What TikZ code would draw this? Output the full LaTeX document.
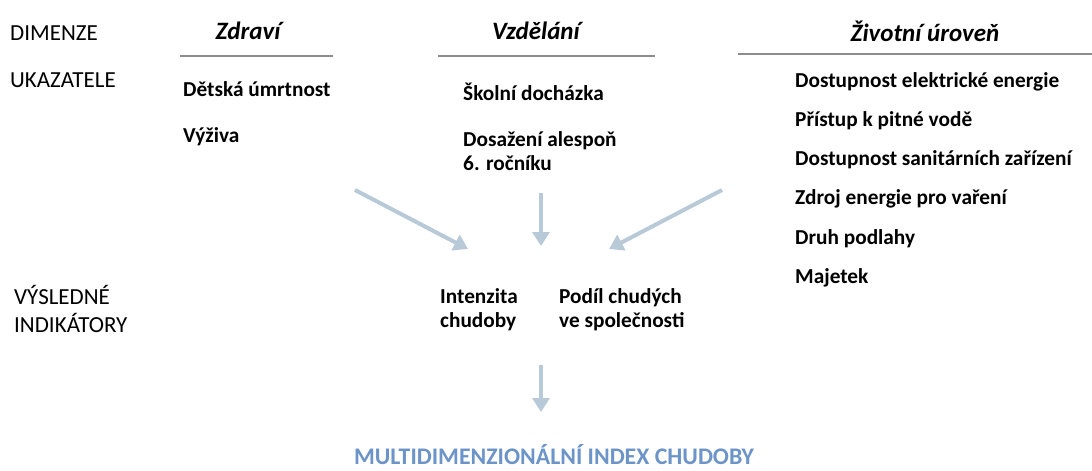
\documentclass[tikz,border=0pt]{standalone}
\usepackage{fontspec}
\setmainfont{Carlito}
\usepackage{tikz}
\usetikzlibrary{arrows.meta}
\definecolor{flowblue}{RGB}{184,201,216}
\definecolor{titleblue}{RGB}{108,148,200}
\definecolor{rulegray}{RGB}{140,140,140}
\tikzset{
ROWLABEL/.style={anchor=west,inner sep=0pt,font=\fontsize{23}{28}\selectfont,align=left},
DIMHEAD/.style={inner sep=0pt,font=\fontsize{25}{28}\selectfont\bfseries\itshape},
ITEM/.style={anchor=west,inner sep=0pt,font=\fontsize{21.3}{24}\selectfont\bfseries,align=left},
RULE/.style={draw=rulegray,line width=1.6pt},
FLOW/.style={draw=flowblue,line width=4pt,-{Triangle[length=14pt,width=17pt]}},
}

\begin{document}
\begin{tikzpicture}[x=1pt,y=-1pt] %MPI
	\useasboundingbox (0,0) rectangle (1092,471);
	% rows
	\node[ROWLABEL] (dim) at (10,33) {DIMENZE};
	\node[ROWLABEL] (uka) at (10,80) {UKAZATELE};
	\node[ROWLABEL] (vysl) at (14,309) {VÝSLEDNÉ\\INDIKÁTORY};
	% dimensions
	\node[DIMHEAD] (zdr) at (248,31) {Zdraví};
	\node[DIMHEAD] (vzd) at (536,31) {Vzdělání};
	\node[DIMHEAD] (ziv) at (925,31) {Životní úroveň};
	\path[RULE] (180,56) -- (333,56);
	\path[RULE] (438,56) -- (655,56);
	\path[RULE] (738,54) -- (1092,54);
	% indicators
	\node[ITEM] (detska) at (183,89) {Dětská úmrtnost};
	\node[ITEM] (vyziva) at (183,137) {Výživa};
	\node[ITEM] (skolni) at (463,92) {Školní docházka};
	\node[ITEM] (dosaz) at (463,151) {Dosažení alespoň\\6. ročníku};
	\node[ITEM] (elek) at (795,82) {Dostupnost elektrické energie};
	\node[ITEM] (voda) at (795,121) {Přístup k pitné vodě};
	\node[ITEM] (sanit) at (795,160) {Dostupnost sanitárních zařízení};
	\node[ITEM] (var) at (795,199) {Zdroj energie pro vaření};
	\node[ITEM] (podl) at (795,239) {Druh podlahy};
	\node[ITEM] (maj) at (795,278) {Majetek};
	% results
	\node[ITEM] (inten) at (440,310) {Intenzita\\chudoby};
	\node[ITEM] (podil) at (559,310) {Podíl chudých\\ve společnosti};
	\node[anchor=base,inner sep=0pt,text depth=0pt,font=\fontsize{23.8}{26}\selectfont\bfseries,text=titleblue] (mpi) at (554,464) {MULTIDIMENZIONÁLNÍ INDEX CHUDOBY};
	% arrows
	\coordinate (a1) at (355,190); \coordinate (b1) at (468,249);
	\coordinate (a2) at (541,193); \coordinate (b2) at (541,246);
	\coordinate (a3) at (722,190); \coordinate (b3) at (609,249);
	\coordinate (a4) at (541,365); \coordinate (b4) at (541,412);
	\path[FLOW] (a1) -- (b1);
	\path[FLOW] (a2) -- (b2);
	\path[FLOW] (a3) -- (b3);
	\path[FLOW] (a4) -- (b4);
\end{tikzpicture}
\end{document}
